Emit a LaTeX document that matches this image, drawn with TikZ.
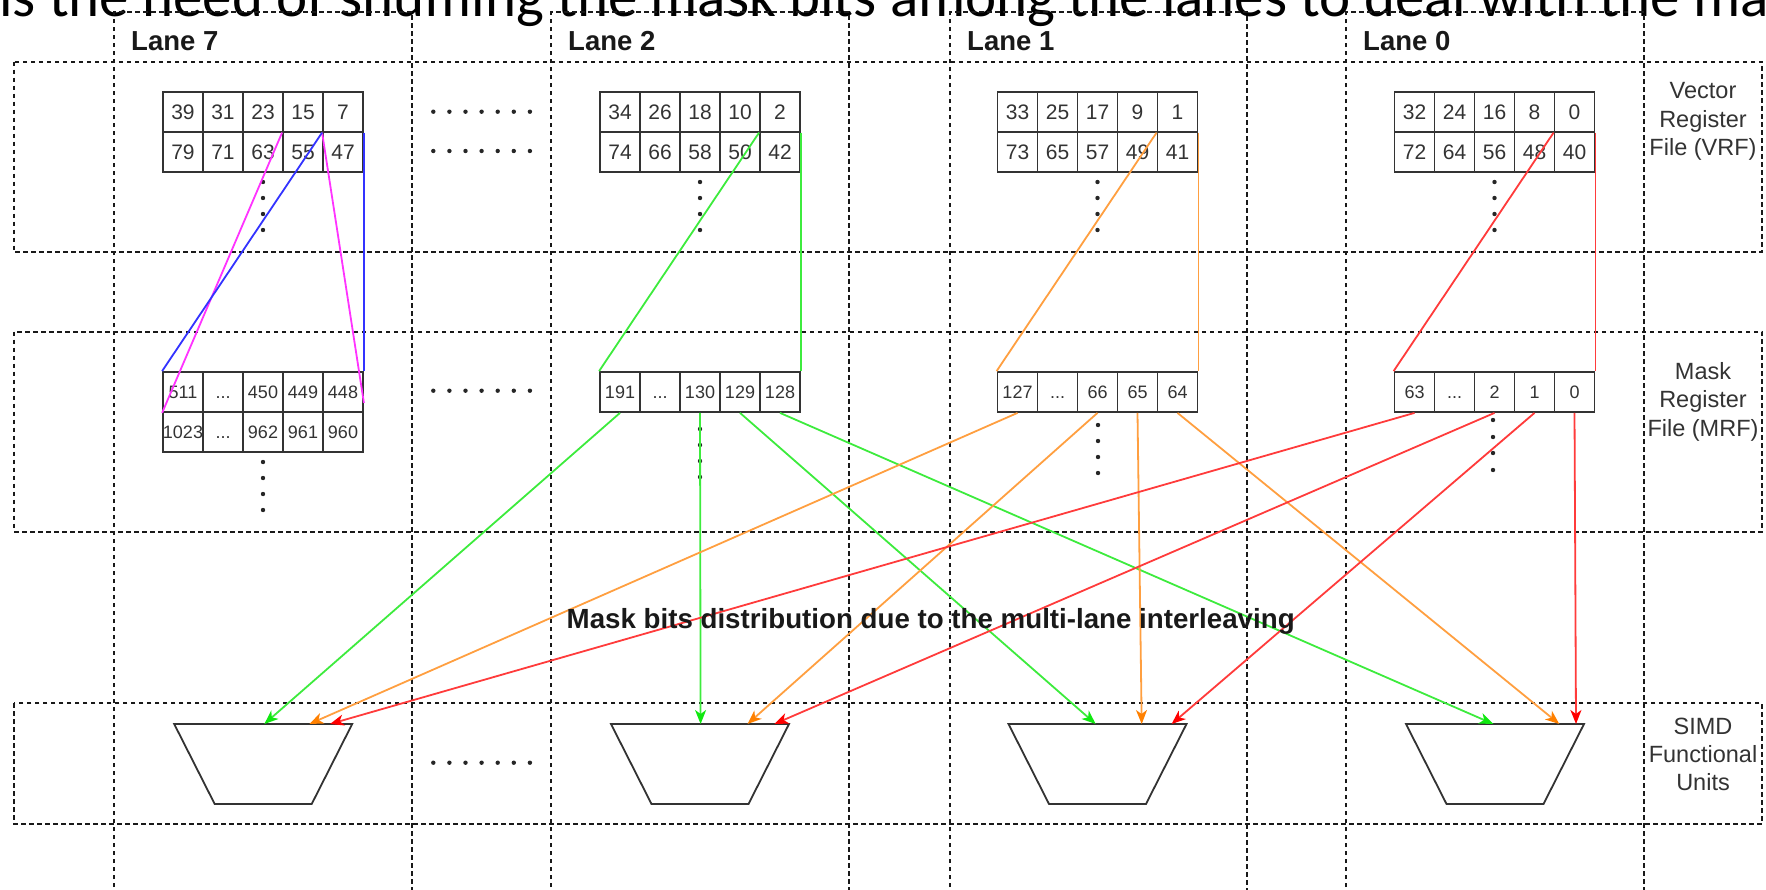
\documentclass[tikz,border=0pt]{standalone}
\usepackage{fontspec}
\setmainfont{Liberation Sans}
\newfontfamily\titlefont{Carlito}
\usetikzlibrary{arrows.meta}
\definecolor{lgreen}{HTML}{3DEB3D}
\definecolor{hgreen}{HTML}{10E810}
\definecolor{lorange}{HTML}{FF9F40}
\definecolor{horange}{HTML}{FF8000}
\definecolor{lred}{HTML}{FF3B3B}
\definecolor{hred}{HTML}{FF0000}
\definecolor{lblue}{HTML}{3333FF}
\definecolor{lmag}{HTML}{FF33FF}
\definecolor{ink}{HTML}{333333}
\newcommand\myellip{...}
\begin{document}
\begin{tikzpicture}[x=1pt,y=-1pt,
  band/.style={draw=black!90, line width=1.7pt, dash pattern=on 4.5pt off 3.5pt},
  vcell/.style={draw=ink, line width=1.8pt, minimum width=40pt, minimum height=40pt, inner sep=0pt, text height=15pt, text depth=0pt, font=\fontsize{21}{21}\selectfont, text=black!80},
  mcell/.style={vcell, text height=13pt, font=\fontsize{18}{18}\selectfont},
  wire/.style={line width=1.8pt},
  garr/.style={wire, draw=lgreen, -{Stealth[length=14pt,width=11pt,inset=4pt,color=hgreen]}},
  oarr/.style={wire, draw=lorange, -{Stealth[length=14pt,width=11pt,inset=4pt,color=horange]}},
  rarr/.style={wire, draw=lred, -{Stealth[length=14pt,width=11pt,inset=4pt,color=hred]}},
  fu/.style={draw=ink, line width=1.8pt},
  lanelbl/.style={anchor=base west, font=\bfseries\fontsize{27.5}{27.5}\selectfont, inner sep=0pt, text=black!90},
  sidelbl/.style={align=center, font=\fontsize{23.5}{28.4}\selectfont, text=black!80, inner sep=0pt},
]
\useasboundingbox (0,0) rectangle (1766,889);

% cut-off slide title
\node[anchor=base west, inner sep=0pt, font=\titlefont\fontsize{59}{59}\selectfont] (title) at (-1,16) {is the need of shuffling the mask bits among the lanes to deal with the ma};

% lane columns
\foreach \l/\r/\n in {114/412/7,551/849/2,950/1247/1,1346/1644/0}{
  \draw[band] (\l,895) -- (\l,12) -- (\r,12) -- (\r,895);
  \node[lanelbl] (lane\n) at (\l+17,50) {Lane \n};
}

% horizontal bands
\draw[band] (14,61.7) rectangle (1762,252.3);
\draw[band] (14,331.7) rectangle (1762,531.7);
\draw[band] (14,703.3) rectangle (1762,824);

% side labels
\node[sidelbl] (vrf) at (1703,121.7) {Vector\\Register\\File (VRF)};
\node[sidelbl] (mrf) at (1703,401.7) {Mask\\Register\\File (MRF)};
\node[sidelbl] (simd) at (1703,754.3) {SIMD\\Functional\\Units};

% VRF tables
\foreach \n/\x/\ra/\rb in {7/163/{39,31,23,15,7}/{79,71,63,55,47},2/600/{34,26,18,10,2}/{74,66,58,50,42},1/997.5/{33,25,17,9,1}/{73,65,57,49,41},0/1394.5/{32,24,16,8,0}/{72,64,56,48,40}}{
  \foreach \v [count=\k] in \ra {\node[vcell] (vt\n-\k) at (\x+40*\k-20,111.7) {\v};}
  \foreach \v [count=\k] in \rb {\node[vcell] (vb\n-\k) at (\x+40*\k-20,151.7) {\v};}
  \foreach \yy in {182,198,214,230} {\fill[black!85] (\x+100,\yy) circle (2.2pt);}
}

% MRF tables
\foreach \v [count=\k] in {511,\myellip,450,449,448} {\node[mcell] (m7a-\k) at (143+40*\k,392) {\v};}
\foreach \v [count=\k] in {1023,\myellip,962,961,960} {\node[mcell] (m7b-\k) at (143+40*\k,432) {\v};}
\foreach \n/\x/\ra in {2/600/{191,\myellip,130,129,128},1/997.5/{127,\myellip,66,65,64},0/1394.5/{63,\myellip,2,1,0}}{
  \foreach \v [count=\k] in \ra {\node[mcell] (m\n-\k) at (\x+40*\k-20,392) {\v};}
}
\foreach \yy in {462,478,494,510} {\fill[black!85] (263,\yy) circle (2.2pt);}
\foreach \yy in {429,445,461,477} {\fill[black!85] (700,\yy) circle (2.2pt);}
\foreach \yy in {425,441,457,473} {\fill[black!85] (1098,\yy) circle (2.2pt);}
\foreach \yy in {420,437,453,470} {\fill[black!85] (1493,\yy) circle (2.2pt);}

% horizontal ellipsis dots between lane 7 and lane 2
\foreach \yy in {111.7,151,390.7,762.7}{
  \foreach \k in {0,1,2,3,4,5,6} {\fill[black!85] (433.3+16.1*\k,\yy) circle (2.2pt);}
}

% VRF -> MRF mapping lines
\draw[wire, lmag] (vt7-4.south west) -- (m7a-1.south west);
\draw[wire, lmag] (vt7-5.south west) -- ([yshift=10pt]m7a-5.south east);
\draw[wire, lblue] (vt7-5.south west) -- (m7a-1.north west);
\draw[wire, lblue] (vt7-5.south east) -- (m7a-5.north east);
\draw[wire, lgreen] (vt2-5.south west) -- (m2-1.north west);
\draw[wire, lgreen] (vt2-5.south east) -- (m2-5.north east);
\draw[wire, lorange] (vt1-5.south west) -- (m1-1.north west);
\draw[wire, lorange] (vt1-5.south east) -- (m1-5.north east);
\draw[wire, lred] (vt0-5.south west) -- (m0-1.north west);
\draw[wire, lred] (vt0-5.south east) -- (m0-5.north east);

% SIMD functional units
\foreach \n/\c in {7/263.2,2/700,1/1097.5,0/1495}{
  \draw[fu] (\c-89,724) -- (\c+89,724) -- (\c+48.5,804) -- (\c-48.5,804) -- cycle;
}
\coordinate (fu7g) at (264.3,724);  \coordinate (fu7o) at (309.3,724);  \coordinate (fu7r) at (330,724);
\coordinate (fu2g) at (700.6,724);  \coordinate (fu2o) at (747.5,724);  \coordinate (fu2r) at (774.3,724);
\coordinate (fu1g) at (1095.7,724); \coordinate (fu1o) at (1141.7,724); \coordinate (fu1r) at (1171.6,724);
\coordinate (fu0g) at (1493.3,724); \coordinate (fu0o) at (1559.3,724); \coordinate (fu0r) at (1576,724);

% MRF -> SIMD arrows
\draw[garr] (m2-1.south) -- (fu7g);
\draw[garr] (m2-3.south) -- (fu2g);
\draw[garr] (m2-4.south) -- (fu1g);
\draw[garr] (m2-5.south) -- (fu0g);
\draw[oarr] (m1-1.south) -- (fu7o);
\draw[oarr] (m1-3.south) -- (fu2o);
\draw[oarr] (m1-4.south) -- (fu1o);
\draw[oarr] (m1-5.south) -- (fu0o);
\draw[rarr] (m0-1.south) -- (fu7r);
\draw[rarr] (m0-3.south) -- (fu2r);
\draw[rarr] (m0-4.south) -- (fu1r);
\draw[rarr] (m0-5.south) -- (fu0r);

\node[anchor=base west, inner sep=0pt, font=\bfseries\fontsize{27.7}{27.7}\selectfont, text=black!90] (mainlbl) at (566.5,628) {Mask bits distribution due to the multi-lane interleaving};
\end{tikzpicture}
\end{document}
